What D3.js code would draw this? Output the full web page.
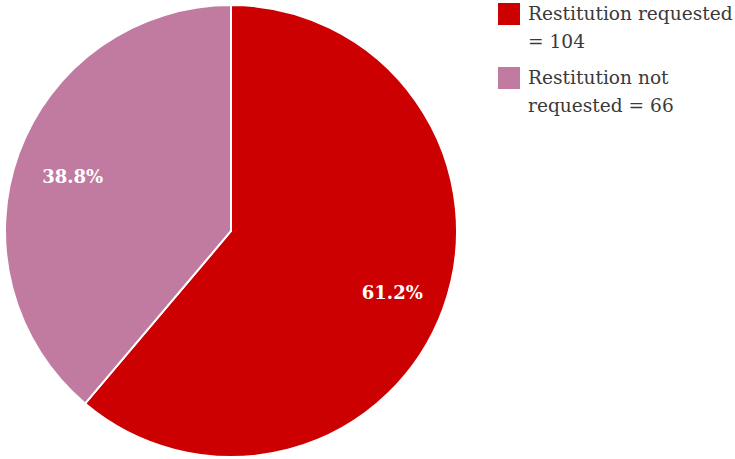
<!DOCTYPE html>
<html>
<head>
<meta charset="utf-8">
<script src="https://cdn.jsdelivr.net/npm/d3@7"></script>
<style>
  html, body { margin: 0; padding: 0; background: #fff; }
  svg { display: block; }
</style>
</head>
<body>
<svg id="chart" width="735" height="459"></svg>
<script>
const categories = ["Restitution requested", "Restitution not requested"];
const values = [104, 66];
const percentLabels = ["61.2%", "38.8%"];
const legendLines = [["Restitution requested", "= 104"], ["Restitution not", "requested = 66"]];
const colors = ["#CC0000", "#C27BA0"];

const svg = d3.select("#chart");
const cx = 231, cy = 231, r = 226;

const pie = d3.pie().sort(null).value(d => d)(values);
const arc = d3.arc().innerRadius(0).outerRadius(r);
const labelArc = d3.arc().innerRadius(r * 0.76).outerRadius(r * 0.76);

const g = svg.append("g").attr("transform", `translate(${cx},${cy})`);
g.selectAll("path").data(pie).enter().append("path")
  .attr("d", arc)
  .attr("fill", (d, i) => colors[i])
  .attr("stroke", "#fff")
  .attr("stroke-width", 2);

g.selectAll("text.pct").data(pie).enter().append("text")
  .attr("class", "pct")
  .attr("transform", (d, i) => {
    const c = labelArc.centroid(d);
    return `translate(${c[0] + (i === 1 ? 3 : 0)},${c[1] + (i === 1 ? 5 : 2)})`;
  })
  .attr("text-anchor", "middle")
  .attr("dominant-baseline", "central")
  .attr("font-family", "'DejaVu Serif', serif")
  .attr("font-weight", "bold")
  .attr("font-size", 18)
  .attr("fill", "#fff")
  .text((d, i) => percentLabels[i]);

const legend = svg.append("g");
const items = legend.selectAll("g").data(categories).enter().append("g")
  .attr("transform", (d, i) => `translate(498,${3 + i * 64})`);
items.append("rect").attr("width", 22).attr("height", 22)
  .attr("fill", (d, i) => colors[i]);
items.each(function(d, i) {
  const t = d3.select(this).append("text")
    .attr("font-family", "'DejaVu Serif', serif")
    .attr("font-size", 18.6)
    .attr("fill", "#3a3a3a");
  legendLines[i].forEach((line, j) => {
    t.append("tspan").attr("x", 30).attr("y", 17 + j * 28).text(line);
  });
});
</script>
</body>
</html>
